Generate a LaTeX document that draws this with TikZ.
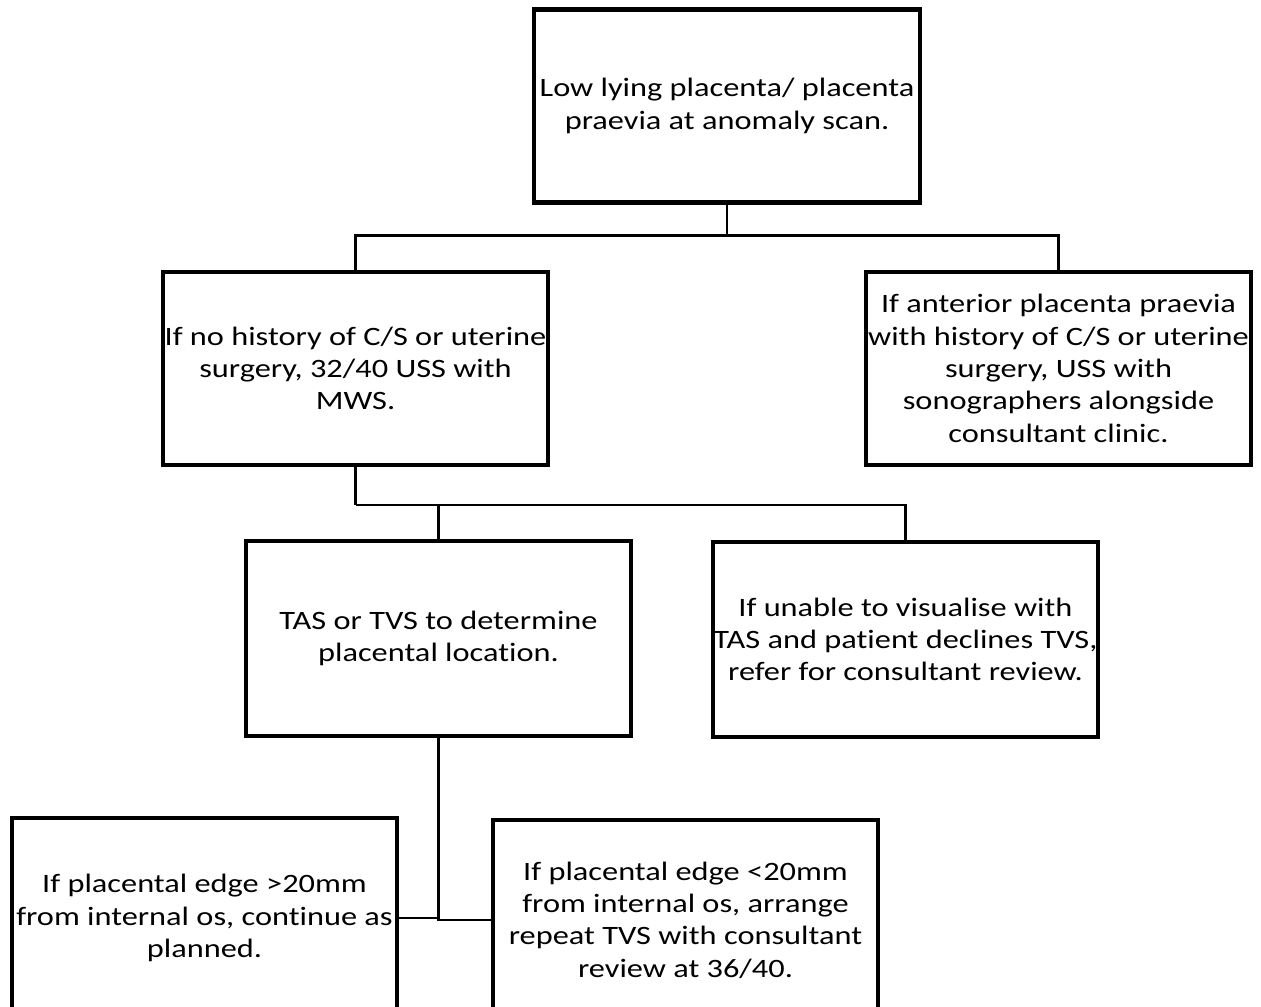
\documentclass[tikz,border=0pt]{standalone}
\usepackage{fontspec}
\setmainfont{Carlito}[FakeStretch=1.22,Ligatures=NoCommon]
\usepackage{tikz}
\usetikzlibrary{positioning,calc}
\tikzset{
  flowbox/.style={rectangle,draw,line width=2.3pt,inner sep=0pt,align=center,
    minimum width=7.72cm,minimum height=3.86cm,
    font=\fontsize{15.1}{18.4}\selectfont},
  link/.style={draw,line width=1.3pt}
}

\begin{document}
\begin{tikzpicture}[x=0.02cm,y=-0.02cm]
            \useasboundingbox (0,0) rectangle (1261,1007);
            \node[flowbox] (low) at (727,106) {Low lying placenta/ placenta\\praevia at anomaly scan.};
            \node[flowbox] (nohist) at (355.5,368.5) {If no history of C/S or uterine\\surgery, 32/40 USS with\\MWS.};
            \node[flowbox] (anterior) at (1058.5,368.5) {If anterior placenta praevia\\with history of C/S or uterine\\surgery, USS with\\sonographers alongside\\consultant clinic.};
            \node[flowbox,minimum height=3.9cm] (tas) at (438.5,638.5) {TAS or TVS to determine\\placental location.};
            \node[flowbox,minimum height=3.9cm] (unable) at (905.5,639.5) {If unable to visualise with\\TAS and patient declines TVS,\\refer for consultant review.};
            \node[flowbox,anchor=north,minimum height=4cm] (far) at (204.5,816) {If placental edge >20mm\\from internal os, continue as\\planned.};
            \node[flowbox,anchor=north,minimum height=4cm] (near) at (685.5,818) {If placental edge <20mm\\from internal os, arrange\\repeat TVS with consultant\\review at 36/40.};
            \draw[link] (low.south) -- ++(0,31) coordinate (j1);
            \draw[link] (nohist.north) |- (j1) -| (anterior.north);
            \draw[link] (nohist.south) -- ++(0,38) coordinate (j2);
            \draw[link] (j2) -| (unable.north);
            \draw[link] (tas.north) -- (tas.north |- j2);
            \draw[link] (tas.south) |- (near.west);
            \draw[link] (far.east) -- (far.east -| tas.south);
        \end{tikzpicture}
\end{document}
